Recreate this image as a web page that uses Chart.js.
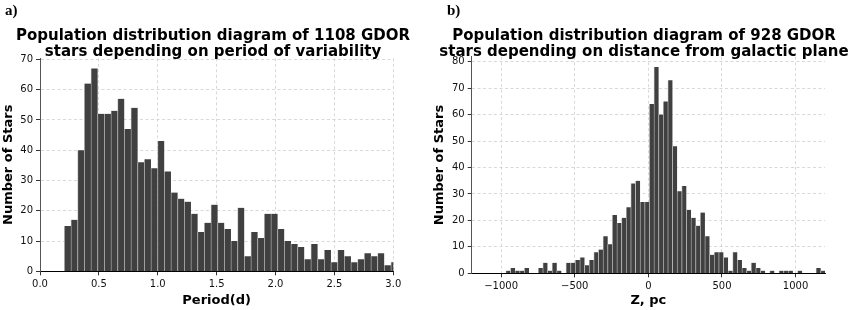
<!DOCTYPE html>
<html>
<head>
<meta charset="utf-8">
<script src="https://cdn.jsdelivr.net/npm/chart.js@4.4.1/dist/chart.umd.min.js"></script>
<style>
    body { margin: 0; background: #fff; }
    #graficos { position: relative; width: 861px; height: 310px; overflow: hidden; }
    canvas { position: absolute; top: 0; }
</style>
</head>
<body>
<div id="graficos">
    <canvas id="ChartPeriodo" width="430" height="310" style="left:0px"></canvas>
    <canvas id="ChartDistancia" width="431" height="310" style="left:430px"></canvas>
</div>
<script>

/// DADOS

// a) periodo de variabilidade, 50 classes
var periodo_inicio = 0.2066;
var periodo_largura = 0.0566;
var periodo_contagem = [15, 17, 40, 62, 67, 52, 52, 53, 57, 47,
    54, 36, 37, 34, 43, 33, 26, 24, 23, 19,
    13, 16, 22, 16, 14, 10, 21, 5, 13, 11,
    19, 19, 14, 10, 9, 8, 4, 9, 4, 7,
    3, 7, 5, 3, 4, 6, 5, 6, 2, 3];
var periodo_ticks_x = [0, 0.5, 1, 1.5, 2, 2.5, 3];
var periodo_ticks_y = [0, 10, 20, 30, 40, 50, 60, 70];

// b) distancia do plano galactico, 69 classes
var z_inicio = -968;
var z_largura = 31.45;
var z_contagem = [1, 2, 1, 1, 2, 0, 0, 2, 4, 1,
    4, 1, 0, 4, 4, 5, 6, 3, 5, 8,
    9, 14, 11, 22, 19, 21, 25, 34, 35, 27,
    27, 64, 78, 60, 65, 73, 48, 31, 33, 24,
    21, 18, 23, 14, 7, 8, 8, 6, 1, 8,
    5, 2, 1, 4, 2, 1, 0, 1, 0, 1,
    1, 1, 0, 1, 0, 0, 0, 2, 1];
var z_ticks_x = [-1000, -500, 0, 500, 1000];
var z_ticks_y = [0, 10, 20, 30, 40, 50, 60, 70, 80];


Chart.defaults.font.family = '"DejaVu Sans", sans-serif';
Chart.defaults.color = '#111';

// titulo de cada painel (letra + duas linhas)
const titulo_painel = {
    id: 'titulo_painel',
    afterDraw: function (chart) {
        var cfg = chart.options.plugins.titulo_painel;
        var ctx = chart.ctx;
        ctx.save();
        ctx.fillStyle = '#000';
        ctx.textBaseline = 'alphabetic';
        ctx.textAlign = 'left';
        ctx.font = 'bold 15px "Liberation Serif"';
        ctx.fillText(cfg.letra, cfg.letraX, 15);
        ctx.textAlign = 'center';
        ctx.font = 'bold 15px "DejaVu Sans"';
        cfg.linhas.forEach(function (linha, i) {
            ctx.fillText(linha, cfg.centroX, 40 + i * 15.5);
        });
        ctx.restore();
    }
};

function pontos(inicio, largura, contagem) {
    var lista = [];
    for (var i = 0; i < contagem.length; i++) {
        lista.push({ x: inicio + largura * (i + 0.5), y: contagem[i] });
    }
    return lista;
}

function eixos(cfg) {
    var grade = { color: '#cfcfcf', lineWidth: 0.8, drawTicks: true, tickLength: 4, tickColor: '#000', tickWidth: 0.8, tickBorderDash: [], offset: false };
    return {
        x: {
            type: 'linear', min: cfg.xmin, max: cfg.xmax, offset: false,
            afterBuildTicks: function (s) { s.ticks = cfg.ticksX.map(function (v) { return { value: v }; }); },
            afterFit: function (s) { s.height = cfg.alturaX; },
            grid: grade,
            border: { display: true, color: '#000', width: 1, dash: [3, 2.5] },
            ticks: { font: { size: 10 }, padding: 3, maxRotation: 0, autoSkip: false, callback: cfg.formatoX },
            title: { display: true, text: cfg.tituloX, font: { size: 13, weight: 'bold', lineHeight: 1.2 }, color: '#000', padding: { top: 0, bottom: 2 } }
        },
        y: {
            min: 0, max: cfg.ymax,
            afterBuildTicks: function (s) { s.ticks = cfg.ticksY.map(function (v) { return { value: v }; }); },
            afterFit: function (s) { s.width = cfg.larguraY; },
            grid: grade,
            border: { display: true, color: '#555', width: 1, dash: [3, 2.5] },
            ticks: { font: { size: 10 }, padding: 3, autoSkip: false },
            title: { display: true, text: 'Number of Stars', font: { size: 13, weight: 'bold', lineHeight: 1.2 }, color: '#000', padding: { top: cfg.padTituloY, bottom: 0 } }
        }
    };
}


/// GRÁFICO a) PERIODO

const chart_periodo = document.getElementById('ChartPeriodo');

if (chart_periodo) {

    new Chart(chart_periodo, {
        type: 'bar',
        data: {
            datasets: [{
                label: '',
                data: pontos(periodo_inicio, periodo_largura, periodo_contagem),
                backgroundColor: 'rgb(64, 64, 64)',
                borderColor: 'rgb(185, 185, 185)',
                borderWidth: { left: 0.8, right: 0, top: 0, bottom: 0 },
                barPercentage: 1,
                categoryPercentage: 1,
                clip: 0
            }]
        },
        options: {
            responsive: false,
            animation: false,
            layout: { padding: { top: 58.3, right: 36.7, left: 0, bottom: 0 } },
            scales: eixos({
                xmin: 0, xmax: 3, ymax: 70.35,
                ticksX: periodo_ticks_x, ticksY: periodo_ticks_y,
                alturaX: 38.7, larguraY: 40, padTituloY: 0.7,
                tituloX: 'Period(d)',
                formatoX: function (v) { return Number(v).toFixed(1); }
            }),
            plugins: {
                legend: { display: false },
                tooltip: { enabled: false },
                titulo_painel: {
                    letra: 'a)', letraX: 5, centroX: 213,
                    linhas: ['Population distribution diagram of 1108 GDOR', 'stars depending on period of variability']
                }
            }
        },
        plugins: [titulo_painel]
    });

}


/// GRÁFICO b) DISTANCIA DO PLANO GALACTICO

const chart_distancia = document.getElementById('ChartDistancia');

if (chart_distancia) {

    new Chart(chart_distancia, {
        type: 'bar',
        data: {
            datasets: [{
                label: '',
                data: pontos(z_inicio, z_largura, z_contagem),
                backgroundColor: 'rgb(64, 64, 64)',
                borderColor: 'rgb(185, 185, 185)',
                borderWidth: { left: 0.8, right: 0, top: 0, bottom: 0 },
                barPercentage: 1,
                categoryPercentage: 1,
                clip: 0
            }]
        },
        options: {
            responsive: false,
            animation: false,
            layout: { padding: { top: 56.7, right: 36, left: 0, bottom: 0 } },
            scales: eixos({
                xmin: -1200, xmax: 1200, ymax: 81.9,
                ticksX: z_ticks_x, ticksY: z_ticks_y,
                alturaX: 36.7, larguraY: 41.7, padTituloY: 2.2,
                tituloX: 'Z, pc',
                formatoX: function (v) { return v < 0 ? '\u2212' + Math.abs(v) : String(v); }
            }),
            plugins: {
                legend: { display: false },
                tooltip: { enabled: false },
                titulo_painel: {
                    letra: 'b)', letraX: 17, centroX: 214,
                    linhas: ['Population distribution diagram of 928 GDOR', 'stars depending on distance from galactic plane']
                }
            }
        },
        plugins: [titulo_painel]
    });

}

</script>
</body>
</html>
